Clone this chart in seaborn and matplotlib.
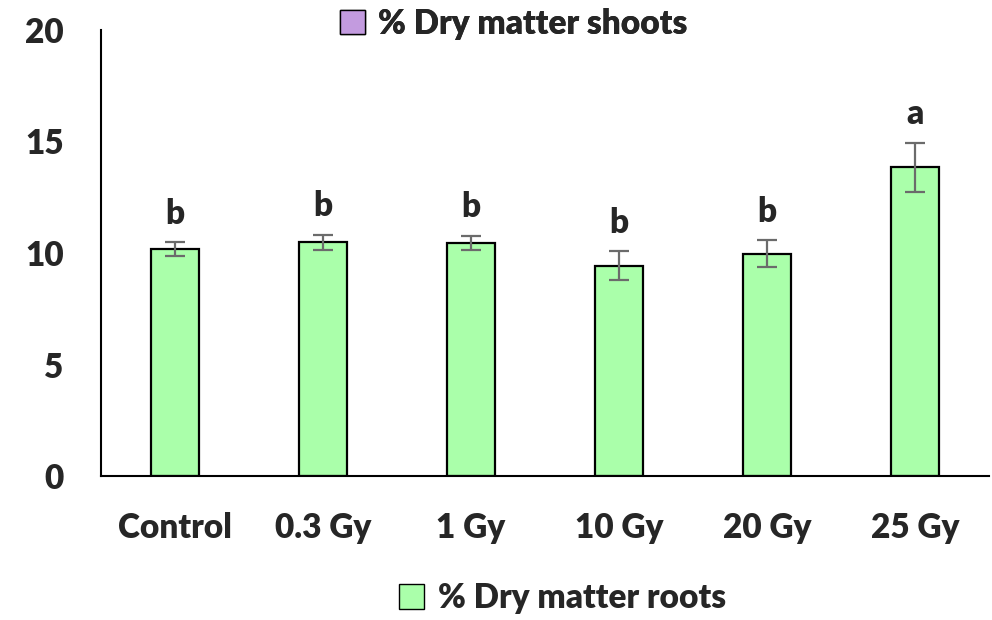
import matplotlib
matplotlib.use("Agg")
import matplotlib.pyplot as plt
from matplotlib.patches import Patch
import pandas as pd
import seaborn as sns

# values
treatments = ["Control", "0.3 Gy", "1 Gy", "10 Gy", "20 Gy", "25 Gy"]
roots_pct = [10.16, 10.48, 10.45, 9.43, 9.97, 13.84]
roots_err = [0.31, 0.34, 0.33, 0.65, 0.62, 1.10]
letters = ["b", "b", "b", "b", "b", "a"]

sns.set_style("white")
plt.rcParams['font.family'] = ['Lato', 'DejaVu Sans']

FS = 24
W = "heavy"

df = pd.DataFrame({"Treatment": treatments, "Roots": roots_pct})

fig = plt.figure(figsize=(9.92, 6.2), dpi=100)
ax = fig.add_axes([0.102, 0.232, 0.895, 0.72])

sns.barplot(data=df, x="Treatment", y="Roots", color="#AAFFAA", saturation=1,
            width=0.32, edgecolor="black", linewidth=1.6, ax=ax)

xs = [p.get_x() + p.get_width() / 2 for p in ax.patches]
ax.errorbar(xs, roots_pct, yerr=roots_err, fmt="none", ecolor="#6b6b6b",
            elinewidth=1.6, capsize=7, capthick=1.6)

for x, y, e, lab in zip(xs, roots_pct, roots_err, letters):
    ax.text(x, y + e + 0.55, lab, ha="center", va="bottom", fontsize=FS, fontweight=W)

ax.set_ylim(0, 20)
ax.set_xlim(-0.5, 5.5)
ax.set_yticks([0, 5, 10, 15, 20])
ax.set_xlabel("")
ax.set_ylabel("")
ax.tick_params(axis="y", labelsize=FS, pad=27, length=0)
ax.tick_params(axis="x", labelsize=FS, pad=26, length=0)
for t in ax.get_xticklabels() + ax.get_yticklabels():
    t.set_fontweight(W)
sns.despine(ax=ax)
for s in ["left", "bottom"]:
    ax.spines[s].set_linewidth(1.5)
    ax.spines[s].set_color("black")

leg_kw = dict(loc="center", frameon=False, prop={"size": FS, "weight": W},
              handlelength=0.75, handleheight=0.75, handletextpad=0.4)
top_leg = fig.legend(handles=[Patch(facecolor="#C39BDF", edgecolor="black", label="% Dry matter shoots")],
                     bbox_to_anchor=(0.518, 0.962), **leg_kw)
fig.legend(handles=[Patch(facecolor="#AAFFAA", edgecolor="black", label="% Dry matter roots")],
           bbox_to_anchor=(0.567, 0.035), **leg_kw)
fig.add_artist(top_leg)

fig.savefig("out.png", dpi=100)
